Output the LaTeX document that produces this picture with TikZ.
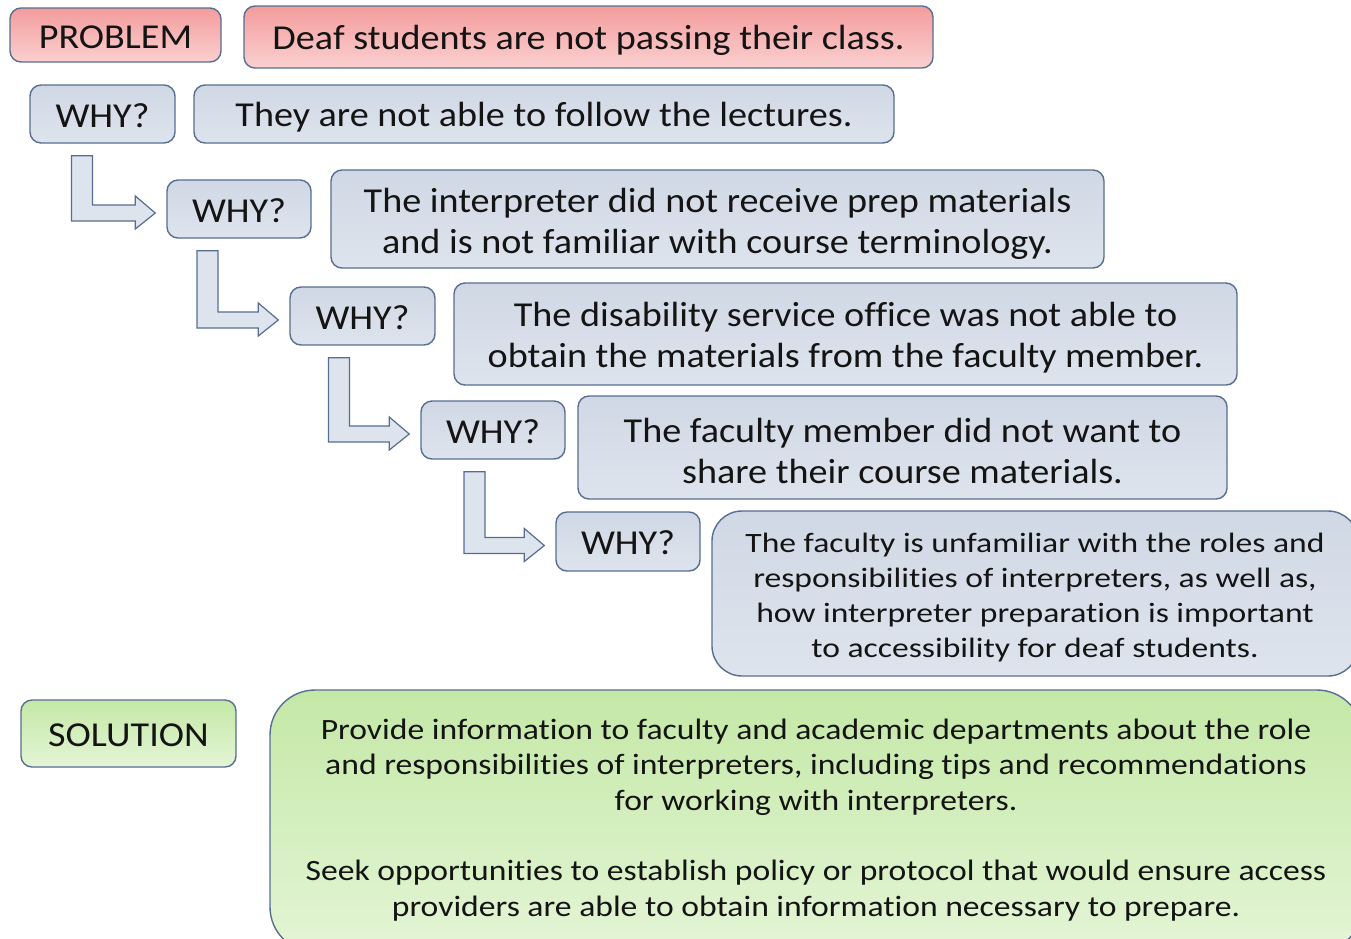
\documentclass[tikz,border=0pt]{standalone}
\usepackage{fontspec}
\setmainfont{Carlito}[Ligatures=NoCommon]
\newfontfamily\labelfont{Carlito}[FakeStretch=1.09, Ligatures=NoCommon]
\newfontfamily\deepfont{Carlito}[FakeStretch=1.2, Ligatures=NoCommon]
\newfontfamily\solfont{Carlito}[FakeStretch=1.14, Ligatures=NoCommon]
\usetikzlibrary{calc}

\definecolor{edge}{RGB}{88,110,145}
\definecolor{bluetop}{RGB}{208,216,229}
\definecolor{bluebot}{RGB}{222,228,237}
\definecolor{pinktop}{RGB}{243,156,156}
\definecolor{pinkbot}{RGB}{251,208,208}
\definecolor{greentop}{RGB}{196,232,166}
\definecolor{greenbot}{RGB}{228,245,214}
\definecolor{ink}{RGB}{20,20,20}

\tikzset{
  box/.style={draw=edge, line width=1.4pt, rounded corners=11pt, inner sep=0pt},
  bluebox/.style={box, top color=bluetop, bottom color=bluebot},
  pinkbox/.style={box, top color=pinktop, bottom color=pinkbot},
  greenbox/.style={box, top color=greentop, bottom color=greenbot},
  txt/.style={inner sep=0pt, align=center, text=ink},
  label/.style={txt, font=\labelfont\fontsize{35}{40}\selectfont},
  bigtext/.style={txt, font=\labelfont\fontsize{35}{41}\selectfont},
  deeptext/.style={txt, font=\deepfont\fontsize{28}{35}\selectfont},
  soltext/.style={txt, font=\solfont\fontsize{29.5}{35.5}\selectfont},
  blockarrow/.style={draw=edge, line width=1.2pt, fill=bluebot, line join=miter}
}

% L-shaped block arrow: #1 = source node, #2 = target node, #3 = horizontal offset of the stem
\newcommand{\whyarrow}[3]{%
  \draw[blockarrow] let \p1=([xshift=#3, yshift=-12pt]#1.south),
                        \p2=([xshift=-11pt, yshift=-4pt]#2.west) in
    (\x1,\y1) -- (\x1+21pt,\y1) -- (\x1+21pt,\y2+8pt) -- (\x2-20pt,\y2+8pt)
    -- (\x2-20pt,\y2+17pt) -- (\x2,\y2) -- (\x2-20pt,\y2-16pt)
    -- (\x2-20pt,\y2-8pt) -- (\x1,\y2-8pt) -- cycle;}

\begin{document}
\begin{tikzpicture}[x=1pt, y=-1pt]
\useasboundingbox (0,0) rectangle (1351,938);
\clip (0,0) rectangle (1351,938);
\fill[white] (0,0) rectangle (1351,938);

% problem row
\node[pinkbox, minimum width=211pt, minimum height=54pt] (prob) at (115.5,35) {};
\node[label] (probL) at ([yshift=-2pt]prob.center) {PROBLEM};
\node[pinkbox, minimum width=689pt, minimum height=62pt] (probtxt) at (588.5,37) {};
\node[label] (probT) at ([yshift=-3pt]probtxt.center) {Deaf students are not passing their class.};

% the chain of whys
\node[bluebox, minimum width=145pt, minimum height=58pt] (why1) at (102.5,114) {};
\node[label] (why1L) at ([yshift=-2pt]why1.center) {WHY?};
\node[bluebox, minimum width=700pt, minimum height=58pt] (t1) at (544,114) {};
\node[label] (t1T) at ([yshift=-3pt]t1.center) {They are not able to follow the lectures.};

\node[bluebox, minimum width=144pt, minimum height=58pt] (why2) at (239,209) {};
\node[label] (why2L) at ([yshift=-2pt]why2.center) {WHY?};
\node[bluebox, minimum width=773pt, minimum height=98pt] (t2) at (717.5,219) {};
\node[bigtext] (t2T) at ([yshift=-5pt]t2.center)
  {The interpreter did not receive prep materials\\and is not familiar with course terminology.};

\node[bluebox, minimum width=145pt, minimum height=58pt] (why3) at (362.5,316) {};
\node[label] (why3L) at ([yshift=-2pt]why3.center) {WHY?};
\node[bluebox, minimum width=783pt, minimum height=102pt] (t3) at (845.5,334) {};
\node[bigtext] (t3T) at ([yshift=-4pt]t3.center)
  {The disability service office was not able to\\obtain the materials from the faculty member.};

\node[bluebox, minimum width=144pt, minimum height=58pt] (why4) at (493,430) {};
\node[label] (why4L) at ([yshift=-2pt]why4.center) {WHY?};
\node[bluebox, minimum width=649pt, minimum height=103pt] (t4) at (902.5,447.5) {};
\node[bigtext] (t4T) at ([yshift=-3pt]t4.center)
  {The faculty member did not want to\\share their course materials.};

\node[bluebox, minimum width=144pt, minimum height=59pt] (why5) at (628,541.5) {};
\node[label] (why5L) at ([yshift=-1pt]why5.center) {WHY?};
\node[bluebox, rounded corners=30pt, minimum width=646pt, minimum height=165pt] (t5) at (1035,593.5) {};
\node[deeptext] (t5T) at ([yshift=-4pt]t5.center)
  {The faculty is unfamiliar with the roles and\\responsibilities of interpreters, as well as,\\how interpreter preparation is important\\to accessibility for deaf students.};

\whyarrow{why1}{why2}{-31pt}
\whyarrow{why2}{why3}{-42pt}
\whyarrow{why3}{why4}{-34pt}
\whyarrow{why4}{why5}{-29pt}

% solution row
\node[greenbox, minimum width=215pt, minimum height=67pt] (sol) at (128.5,733.5) {};
\node[label] (solL) at ([yshift=-2pt]sol.center) {SOLUTION};
\node[greenbox, rounded corners=45pt, minimum width=1092pt, minimum height=262pt] (soltxt) at (816,821) {};
\node[soltext] (solT) at ([yshift=1pt]soltxt.center)
  {Provide information to faculty and academic departments about the role\\
   and responsibilities of interpreters, including tips and recommendations\\
   for working with interpreters.\\[35pt]
   Seek opportunities to establish policy or protocol that would ensure access\\
   providers are able to obtain information necessary to prepare.};
\end{tikzpicture}
\end{document}
